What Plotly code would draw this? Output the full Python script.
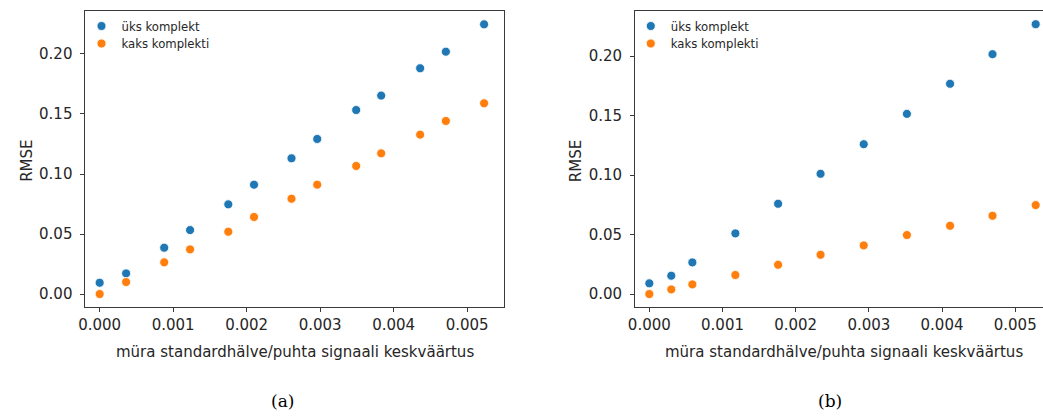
import plotly.graph_objects as go

# ---- data ----
x_a = [0.0, 0.00036, 0.000878, 0.00123, 0.00175, 0.0021, 0.00261, 0.00296,
       0.00349, 0.00383, 0.00436, 0.00471, 0.00523]
uks_a = [0.0094, 0.0172, 0.0386, 0.0533, 0.0747, 0.0911, 0.1131, 0.1292,
         0.1533, 0.1653, 0.1881, 0.2019, 0.2247]
kaks_a = [0.0, 0.0100, 0.0264, 0.0372, 0.0519, 0.0642, 0.0794, 0.0911,
          0.1067, 0.1172, 0.1328, 0.1442, 0.1589]

x_b = [0.0, 0.0003, 0.000588, 0.001176, 0.00176, 0.00234, 0.00293, 0.00352,
       0.00411, 0.00469, 0.00528]
uks_b = [0.0090, 0.0154, 0.0266, 0.0510, 0.0759, 0.1011, 0.1260, 0.1515,
         0.1768, 0.2017, 0.2269]
kaks_b = [0.0, 0.0039, 0.0081, 0.0160, 0.0246, 0.0330, 0.0409, 0.0496,
          0.0574, 0.0658, 0.0748]

x_ticks = [0.0, 0.001, 0.002, 0.003, 0.004, 0.005]
x_ticklabels = ["0.000", "0.001", "0.002", "0.003", "0.004", "0.005"]
y_ticks = [0.0, 0.05, 0.10, 0.15, 0.20]
y_ticklabels = ["0.00", "0.05", "0.10", "0.15", "0.20"]

series_names = ["üks komplekt", "kaks komplekti"]
colors = ["#1f77b4", "#ff7f0e"]
x_title = "müra standardhälve/puhta signaali keskväärtus"
y_title = "RMSE"
captions = ["(a)", "(b)"]

W, H = 1043, 417
fig = go.Figure()

marker_common = dict(size=9, line=dict(color="white", width=0.8))
panels = [("x", "y", x_a, [uks_a, kaks_a], ["legend", "legend2"]),
          ("x2", "y2", x_b, [uks_b, kaks_b], ["legend3", "legend4"])]
for xa, ya, xs, ys_list, legs in panels:
    for i, ys in enumerate(ys_list):
        fig.add_trace(go.Scatter(x=xs, y=ys, mode="markers", name=series_names[i],
                                 marker=dict(color=colors[i], **marker_common),
                                 xaxis=xa, yaxis=ya, legend=legs[i]))

tickfont = dict(family="DejaVu Sans", size=15, color="#262626")
axis_common = dict(showgrid=False, zeroline=False, showline=True,
                   linecolor="#3a3a3a", linewidth=1, ticks="outside",
                   ticklen=4, tickcolor="#3a3a3a", tickfont=tickfont)

legend_font = dict(family="DejaVu Sans", size=11.7, color="#262626")


def leg(xpx, ypx):
    return dict(x=(xpx - 26) / W, y=1 - ypx / H, xanchor="left",
                yanchor="middle", bgcolor="rgba(0,0,0,0)", borderwidth=0,
                font=legend_font, tracegroupgap=0)


ydom = [1 - 307 / H, 1 - 11 / H]
fig.update_layout(
    width=W, height=H,
    margin=dict(l=0, r=0, t=0, b=0),
    paper_bgcolor="white", plot_bgcolor="white",
    xaxis=dict(domain=[79 / W, 500 / W], range=[-0.000193, 0.005496],
               tickvals=x_ticks, ticktext=x_ticklabels, mirror=True,
               anchor="y", **axis_common),
    yaxis=dict(domain=ydom, range=[-0.0108, 0.2358], tickvals=y_ticks,
               ticktext=y_ticklabels, mirror=True, anchor="x",
               ticklabelstandoff=5, **axis_common),
    xaxis2=dict(domain=[632.3 / W, 1.0], range=[-0.000195, 0.005380],
                tickvals=x_ticks, ticktext=x_ticklabels, mirror=True,
                anchor="y2", **axis_common),
    yaxis2=dict(domain=ydom, range=[-0.0109, 0.238], tickvals=y_ticks,
                ticktext=y_ticklabels, mirror=False, anchor="x2",
                ticklabelstandoff=5, **axis_common),
    legend=leg(101, 26),
    legend2=leg(101, 43.5),
    legend3=leg(654, 26),
    legend4=leg(654, 43.5),
    showlegend=True,
)

label_font = dict(family="DejaVu Sans", size=15, color="#262626")
annotations = [
    dict(text=x_title, x=289.5 / W, y=1 - 352 / H, xref="paper", yref="paper",
         showarrow=False, font=label_font, xanchor="center", yanchor="middle"),
    dict(text=x_title, x=843 / W, y=1 - 352 / H, xref="paper", yref="paper",
         showarrow=False, font=label_font, xanchor="center", yanchor="middle"),
    dict(text=y_title, x=20 / W, y=1 - 161 / H, xref="paper", yref="paper",
         showarrow=False, font=label_font, textangle=-90,
         xanchor="center", yanchor="middle"),
    dict(text=y_title, x=573 / W, y=1 - 161 / H, xref="paper", yref="paper",
         showarrow=False, font=label_font, textangle=-90,
         xanchor="center", yanchor="middle"),
    dict(text=captions[0], x=277 / W, y=1 - 401 / H, xref="paper", yref="paper",
         showarrow=False, font=dict(family="DejaVu Serif", size=17, color="black"),
         xanchor="center", yanchor="middle"),
    dict(text=captions[1], x=829 / W, y=1 - 401 / H, xref="paper", yref="paper",
         showarrow=False, font=dict(family="DejaVu Serif", size=17, color="black"),
         xanchor="center", yanchor="middle"),
]
fig.update_layout(annotations=annotations)

fig.write_html("out.html", config={"displayModeBar": False},
               post_script="document.body.style.margin='0';"
                           "document.body.style.overflow='hidden';")
